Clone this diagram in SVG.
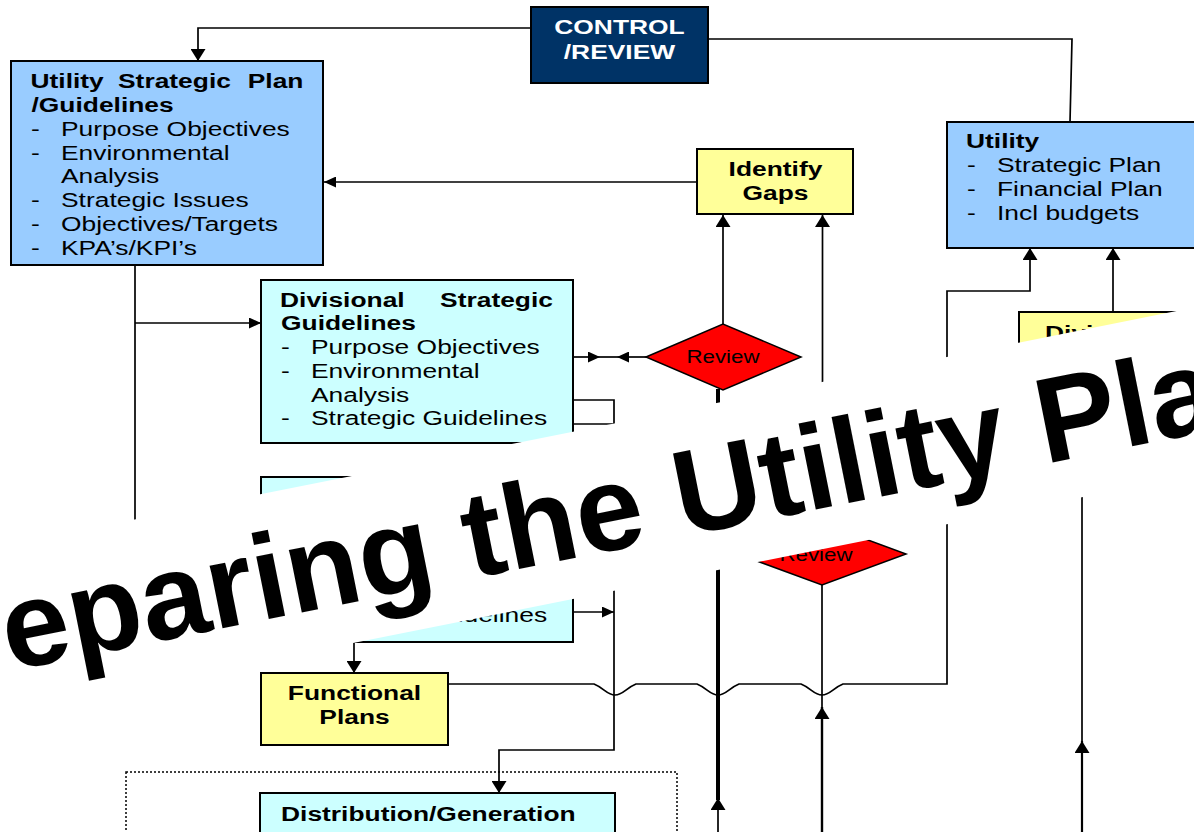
<svg xmlns="http://www.w3.org/2000/svg" width="1194" height="832" viewBox="0 0 1194 832">
  <defs>
    <style>
      .box{stroke:#000;stroke-width:2}
      .blue{fill:#99CCFF}
      .cyan{fill:#CCFFFF}
      .yel{fill:#FFFF99}
      .navy{fill:#003366}
      .dia{fill:#FF0000;stroke:#000;stroke-width:1.5}
      text{font-family:"Liberation Sans",Arial,Helvetica,sans-serif;font-size:20px;fill:#000}
      .b{font-weight:bold}
      .w{fill:#fff}
      .c{text-anchor:middle}
      .e{text-anchor:end}
      .rv{font-size:18px}
      .ln{fill:none;stroke:#000;stroke-width:1.7}
      .dot{fill:none;stroke:#000;stroke-width:1.5;stroke-dasharray:2 2}
      .banner{font-size:121px;font-weight:bold}
    </style>
    <!-- arrowheads: horizontal runs and (wider) vertical runs -->
    <marker id="ah" markerUnits="userSpaceOnUse" viewBox="0 0 12 11" markerWidth="12" markerHeight="11" refX="12" refY="5.5" orient="auto">
      <path d="M0,0 L12,5.5 L0,11 z" fill="#000"/>
    </marker>
    <marker id="av" markerUnits="userSpaceOnUse" viewBox="0 0 12 15" markerWidth="12" markerHeight="15" refX="12" refY="7.5" orient="auto">
      <path d="M0,0 L12,7.5 L0,15 z" fill="#000"/>
    </marker>
  </defs>

  <rect width="1194" height="832" fill="#fff"/>

  <!-- connectors -->
  <g id="connectors" class="ln">
    <path d="M531,28 H198 V61" marker-end="url(#av)"/>
    <path d="M708,39 H1072 L1070,122"/>
    <path d="M697,182 H324" marker-end="url(#ah)"/>
    <path d="M723,324 V215" marker-end="url(#av)"/>
    <path d="M822.5,523 V215" marker-end="url(#av)"/>
    <path d="M135,265 V545"/>
    <path d="M135,323 H261" marker-end="url(#ah)"/>
    <path d="M573,357 H600" marker-end="url(#ah)"/>
    <path d="M646,357 H617" marker-end="url(#ah)"/>
    <path d="M600,357 H617"/>
    <path d="M573,400 H614 V750 H499 V793" marker-end="url(#av)"/>
    <path d="M573,424 H614"/>
    <path d="M573,612 H614" marker-end="url(#ah)"/>
    <path d="M354,642 V673" marker-end="url(#av)"/>
    <path d="M448,684 H594 C604,688 607,695 615,695 C623,695 626,688 636,684 H697 C707,688 710,695 718,695 C726,695 729,688 739,684 H801 C811,688 814,695 822,695 C830,695 833,688 843,684 H947 V291 H1030 V248" marker-end="url(#av)"/>
    <path d="M1113,312 V248" marker-end="url(#av)"/>
    <path d="M718,389 V800" style="stroke-width:4"/>
    <path d="M718,832 V798" marker-end="url(#av)"/>
    <path d="M822,585 V707"/>
    <path d="M822,832 V707" marker-end="url(#av)" style="stroke-width:2.4"/>
    <path d="M1082,470 V741"/>
    <path d="M1082,832 V741" marker-end="url(#av)" style="stroke-width:2.2"/>
  </g>

  <g id="control-review">
    <rect class="box navy" x="531" y="7" width="177" height="76"/>
    <text class="b w c" transform="matrix(1.32 0 0 1 619.5 34)">CONTROL</text>
    <text class="b w c" transform="matrix(1.32 0 0 1 619.5 59)">/REVIEW</text>
  </g>

  <g id="utility-strategic-plan">
    <rect class="box blue" x="11" y="61" width="312" height="204"/>
    <text class="b" transform="matrix(1.32 0 0 1 30.5 88)">Utility</text>
    <text class="b" transform="matrix(1.32 0 0 1 118 88)">Strategic</text>
    <text class="b e" transform="matrix(1.32 0 0 1 303.5 88)">Plan</text>
    <text class="b" transform="matrix(1.32 0 0 1 31.5 112)">/Guidelines</text>
    <text transform="matrix(1.32 0 0 1 31 136)">-</text>
    <text transform="matrix(1.32 0 0 1 61 136)">Purpose Objectives</text>
    <text transform="matrix(1.32 0 0 1 31 160)">-</text>
    <text transform="matrix(1.32 0 0 1 61 160)">Environmental</text>
    <text transform="matrix(1.32 0 0 1 61 183)">Analysis</text>
    <text transform="matrix(1.32 0 0 1 31 207)">-</text>
    <text transform="matrix(1.32 0 0 1 61 207)">Strategic Issues</text>
    <text transform="matrix(1.32 0 0 1 31 231)">-</text>
    <text transform="matrix(1.32 0 0 1 61 231)">Objectives/Targets</text>
    <text transform="matrix(1.32 0 0 1 31 255)">-</text>
    <text transform="matrix(1.32 0 0 1 61 255)">KPA’s/KPI’s</text>
  </g>

  <g id="identify-gaps">
    <rect class="box yel" x="697" y="149" width="156" height="65"/>
    <text class="b c" transform="matrix(1.32 0 0 1 775.5 176)">Identify</text>
    <text class="b c" transform="matrix(1.32 0 0 1 775.5 200)">Gaps</text>
  </g>

  <g id="utility">
    <rect class="box blue" x="947" y="122" width="260" height="126"/>
    <text class="b" transform="matrix(1.32 0 0 1 966 148)">Utility</text>
    <text transform="matrix(1.32 0 0 1 967 172)">-</text>
    <text transform="matrix(1.32 0 0 1 997 172)">Strategic Plan</text>
    <text transform="matrix(1.32 0 0 1 967 196)">-</text>
    <text transform="matrix(1.32 0 0 1 997 196)">Financial Plan</text>
    <text transform="matrix(1.32 0 0 1 967 220)">-</text>
    <text transform="matrix(1.32 0 0 1 997 220)">Incl budgets</text>
  </g>

  <g id="divisional-plans">
    <rect class="box yel" x="1019" y="312" width="200" height="90"/>
    <text class="b" transform="matrix(1.32 0 0 1 1045 340)">Divisional</text>
  </g>

  <g id="divisional-strategic-guidelines">
    <rect class="box cyan" x="261" y="280" width="312" height="163"/>
    <text class="b" transform="matrix(1.32 0 0 1 280 307)">Divisional</text>
    <text class="b e" transform="matrix(1.32 0 0 1 553 307)">Strategic</text>
    <text class="b" transform="matrix(1.32 0 0 1 281 330)">Guidelines</text>
    <text transform="matrix(1.32 0 0 1 281 354)">-</text>
    <text transform="matrix(1.32 0 0 1 311 354)">Purpose Objectives</text>
    <text transform="matrix(1.32 0 0 1 281 378)">-</text>
    <text transform="matrix(1.32 0 0 1 311 378)">Environmental</text>
    <text transform="matrix(1.32 0 0 1 311 402)">Analysis</text>
    <text transform="matrix(1.32 0 0 1 281 425)">-</text>
    <text transform="matrix(1.32 0 0 1 311 425)">Strategic Guidelines</text>
  </g>

  <g id="review-1">
    <polygon class="dia" points="646,357 723,324 801,357 723,390"/>
    <text class="rv c" transform="matrix(1.24 0 0 1 723 363)">Review</text>
  </g>

  <g id="divisional-guidelines-2">
    <rect class="box cyan" x="261" y="477" width="312" height="165"/>
    <text transform="matrix(1.32 0 0 1 311 622)">Strategic Guidelines</text>
  </g>

  <g id="review-2">
    <polygon class="dia" points="738,554 822,523 906,554 822,585"/>
    <text class="rv c" transform="matrix(1.24 0 0 1 816 561)">Review</text>
  </g>

  <g id="functional-plans">
    <rect class="box yel" x="261" y="673" width="187" height="72"/>
    <text class="b c" transform="matrix(1.32 0 0 1 354.5 700)">Functional</text>
    <text class="b c" transform="matrix(1.32 0 0 1 354.5 724)">Plans</text>
  </g>

  <g id="operations">
    <rect class="dot" x="126" y="772" width="551" height="90"/>
  </g>

  <g id="distribution-generation">
    <rect class="box cyan" x="260" y="793" width="355" height="60"/>
    <text class="b" transform="matrix(1.32 0 0 1 281 821)">Distribution/Generation</text>
  </g>

  <!-- title ribbon laid across the chart -->
  <g id="banner" transform="translate(517,443) rotate(-11.31)">
    <rect x="-900" y="0" width="1900" height="164" fill="#fff"/>
    <text class="banner" x="-542" y="124">eparing the Utility Pla</text>
  </g>
</svg>
